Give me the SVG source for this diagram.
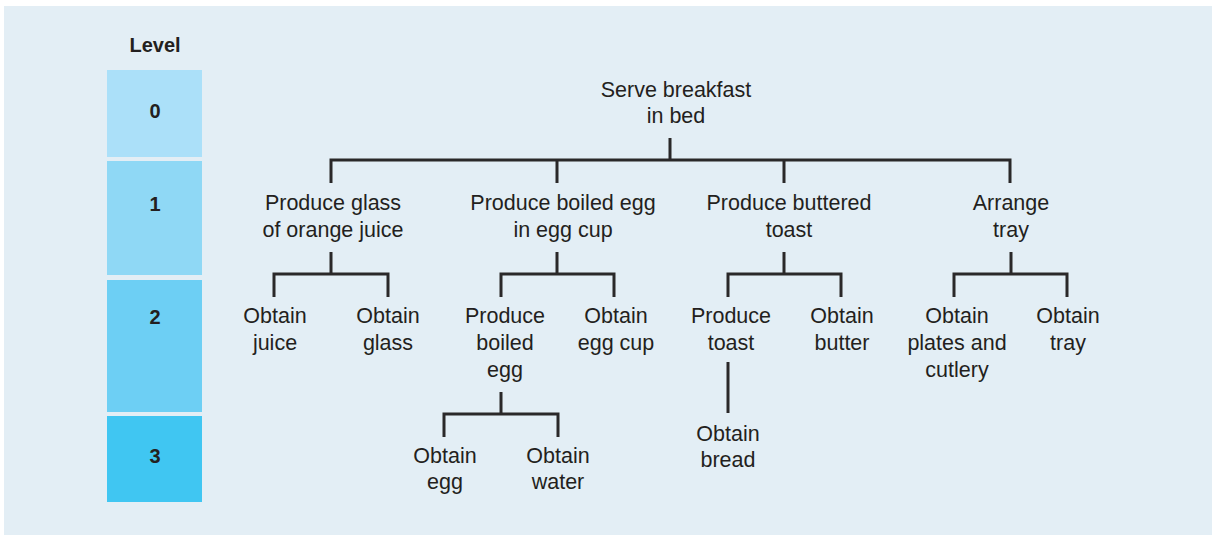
<svg xmlns="http://www.w3.org/2000/svg" width="1212" height="535" viewBox="0 0 1212 535">
  <style>
    .bg { fill: #e3eef5; }
    .lbl { font-family: "Liberation Sans", Arial, sans-serif; font-size: 21.5px; fill: #231f20; text-anchor: middle; }
    .lvl { font-family: "Liberation Sans", Arial, sans-serif; font-size: 20px; font-weight: bold; fill: #231f20; text-anchor: middle; }
    .conn { fill: none; stroke: #2a2829; stroke-width: 3; stroke-linecap: butt; stroke-linejoin: miter; }
  </style>

  <rect x="0" y="0" width="1212" height="535" fill="#ffffff"/>
  <rect class="bg" x="4" y="6" width="1208" height="529"/>

  <!-- level scale -->
  <g id="levels">
    <text class="lvl" x="155" y="52">Level</text>
    <rect x="107" y="70" width="95" height="87" fill="#abe0f9"/>
    <text class="lvl" x="155" y="118">0</text>
    <rect x="107" y="161" width="95" height="114" fill="#8fd8f5"/>
    <text class="lvl" x="155" y="211">1</text>
    <rect x="107" y="280" width="95" height="132" fill="#6dcff4"/>
    <text class="lvl" x="155" y="324">2</text>
    <rect x="107" y="416" width="95" height="86" fill="#40c6f2"/>
    <text class="lvl" x="155" y="463">3</text>
  </g>

  <!-- connectors -->
  <g id="connectors" class="conn">
    <!-- root -->
    <path d="M670,138 V160 M331,183 V160 H1010 V183 M557,160 V183 M784,160 V183"/>
    <!-- orange juice -->
    <path d="M331,252 V274 M274,297 V274 H388 V297"/>
    <!-- boiled egg in cup -->
    <path d="M557,252 V274 M501,297 V274 H614 V297"/>
    <!-- boiled egg -->
    <path d="M501,392 V414 M444,437 V414 H558 V437"/>
    <!-- buttered toast -->
    <path d="M784,252 V274 M728,297 V274 H841 V297"/>
    <!-- toast -->
    <path d="M728,362 V413"/>
    <!-- tray -->
    <path d="M1011,252 V274 M954,297 V274 H1067 V297"/>
  </g>

  <g id="n-root">
    <text class="lbl" x="676" y="97">Serve breakfast</text>
    <text class="lbl" x="676" y="123">in bed</text>
  </g>

  <g id="n-juice">
    <text class="lbl" x="333" y="210">Produce glass</text>
    <text class="lbl" x="333" y="237">of orange juice</text>
  </g>
  <g id="n-egg-cup">
    <text class="lbl" x="563" y="210">Produce boiled egg</text>
    <text class="lbl" x="563" y="237">in egg cup</text>
  </g>
  <g id="n-toast-buttered">
    <text class="lbl" x="789" y="210">Produce buttered</text>
    <text class="lbl" x="789" y="237">toast</text>
  </g>
  <g id="n-tray">
    <text class="lbl" x="1011" y="210">Arrange</text>
    <text class="lbl" x="1011" y="237">tray</text>
  </g>

  <g id="n-obtain-juice">
    <text class="lbl" x="275" y="323">Obtain</text>
    <text class="lbl" x="275" y="350">juice</text>
  </g>
  <g id="n-obtain-glass">
    <text class="lbl" x="388" y="323">Obtain</text>
    <text class="lbl" x="388" y="350">glass</text>
  </g>
  <g id="n-boiled-egg">
    <text class="lbl" x="505" y="323">Produce</text>
    <text class="lbl" x="505" y="350">boiled</text>
    <text class="lbl" x="505" y="377">egg</text>
  </g>
  <g id="n-obtain-egg-cup">
    <text class="lbl" x="616" y="323">Obtain</text>
    <text class="lbl" x="616" y="350">egg cup</text>
  </g>
  <g id="n-toast">
    <text class="lbl" x="731" y="323">Produce</text>
    <text class="lbl" x="731" y="350">toast</text>
  </g>
  <g id="n-obtain-butter">
    <text class="lbl" x="842" y="323">Obtain</text>
    <text class="lbl" x="842" y="350">butter</text>
  </g>
  <g id="n-obtain-plates">
    <text class="lbl" x="957" y="323">Obtain</text>
    <text class="lbl" x="957" y="350">plates and</text>
    <text class="lbl" x="957" y="377">cutlery</text>
  </g>
  <g id="n-obtain-tray">
    <text class="lbl" x="1068" y="323">Obtain</text>
    <text class="lbl" x="1068" y="350">tray</text>
  </g>

  <g id="n-obtain-egg">
    <text class="lbl" x="445" y="463">Obtain</text>
    <text class="lbl" x="445" y="489">egg</text>
  </g>
  <g id="n-obtain-water">
    <text class="lbl" x="558" y="463">Obtain</text>
    <text class="lbl" x="558" y="489">water</text>
  </g>
  <g id="n-obtain-bread">
    <text class="lbl" x="728" y="441">Obtain</text>
    <text class="lbl" x="728" y="467">bread</text>
  </g>
</svg>
